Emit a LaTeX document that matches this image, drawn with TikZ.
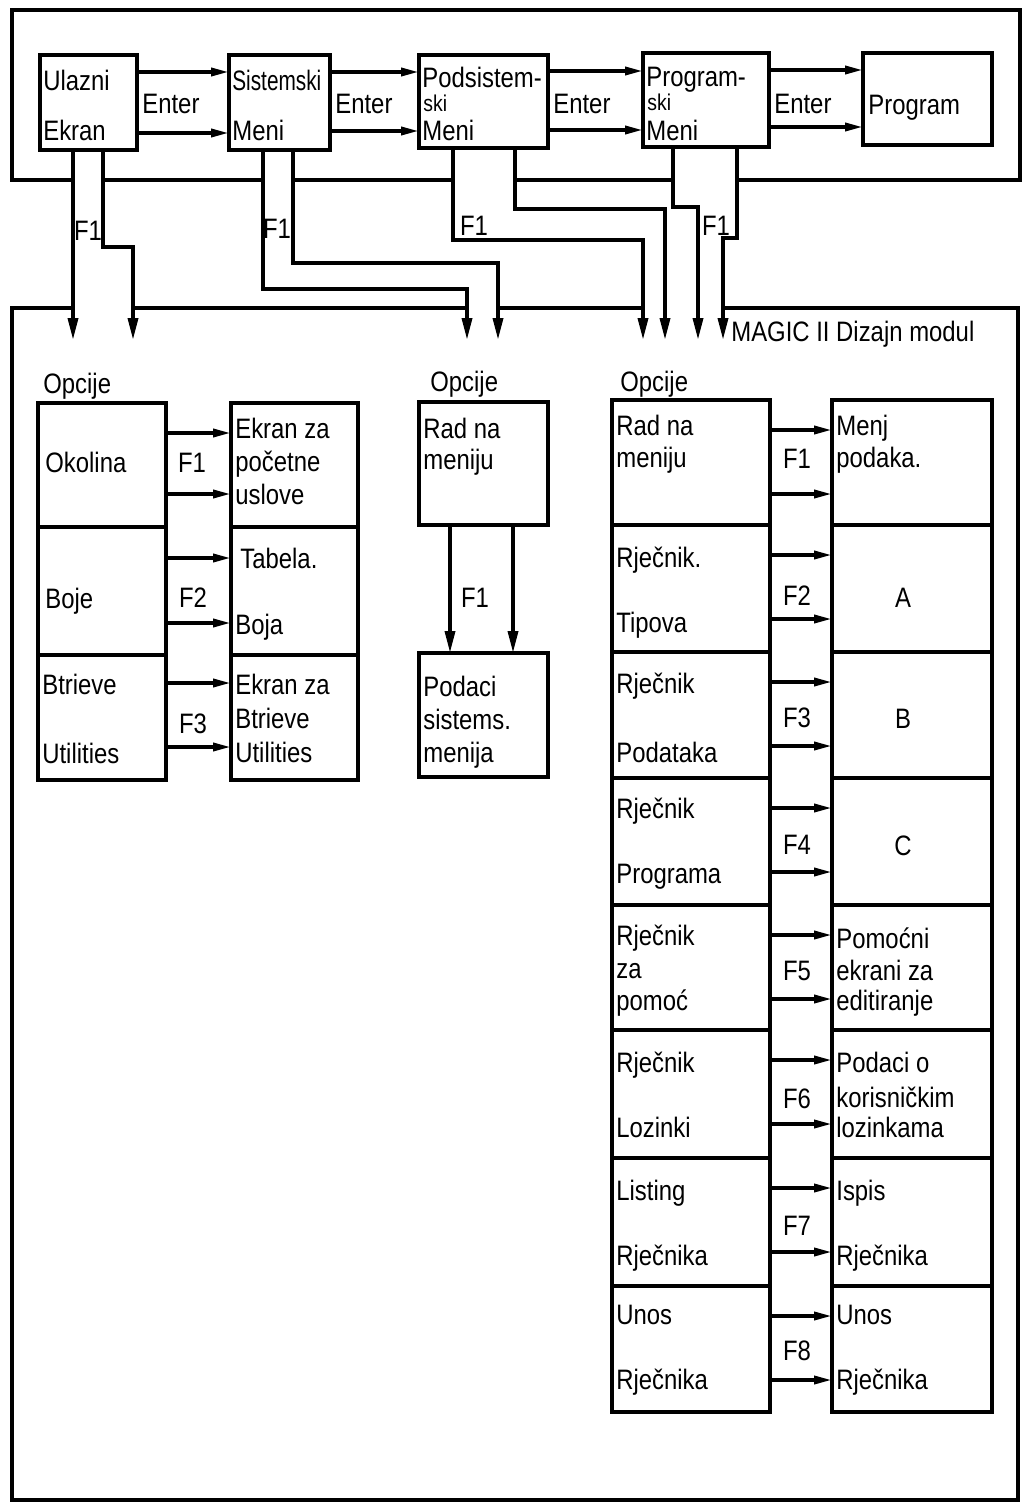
\documentclass[tikz,border=0pt]{standalone}
\usepackage{fontspec}
\setmainfont{Liberation Sans}[FakeStretch=0.85]
\newfontfamily\narrowfont{Liberation Sans}[FakeStretch=0.74]
\usetikzlibrary{arrows.meta}
\newcommand\mybox[5]{\node[box, minimum width={(#4-#2)*0.02cm}, minimum height={(#5-#3)*0.02cm}] (#1) at ({(#2+#4)/2},{(#3+#5)/2}) {};}
\begin{document}
\begin{tikzpicture}[x=0.02cm,y=-0.02cm,
  box/.style={draw, line width=2.1pt, inner sep=0pt, outer sep=0pt},
  wire/.style={line width=2pt},
  dar/.style={-{Triangle[length=0.44cm,width=0.2cm]}},
  har/.style={-{Triangle[length=0.36cm,width=0.16cm]}},
  tx/.style={anchor=west, inner sep=0pt, text height=11.5pt, text depth=0pt, font=\fontsize{16}{18}\selectfont},
  sm/.style={anchor=west, inner sep=0pt, text height=9pt, text depth=0pt, font=\fontsize{13}{14}\selectfont},
  tc/.style={tx, anchor=center}]
\useasboundingbox (0,0) rectangle (1022,1504);
\fill[white] (0,0) rectangle (1022,1504);

% ---------- top frame ----------
\draw[wire] (73,180) -- (12,180) -- (12,10) -- (1020,10) -- (1020,180) -- (737,180);
\draw[wire] (103,180) -- (263,180) (293,180) -- (453,180) (515,180) -- (673,180);

% ---------- bottom frame ----------
\draw[wire] (73,308) -- (12,308) -- (12,1500) -- (1018,1500) -- (1018,308) -- (723,308);
\draw[wire] (133,308) -- (467,308) (498,308) -- (643,308);

% ---------- top boxes ----------
\mybox{ul}{40}{55}{137}{150}
\mybox{si}{229}{55}{330}{150}
\mybox{ps}{419}{55}{548}{148}
\mybox{pg}{643}{53}{769}{147}
\mybox{pr}{863}{53}{992}{145}

\draw[wire,har] (ul.east |- 0,72) -- (si.west |- 0,72);
\draw[wire,har] (ul.east |- 0,133) -- (si.west |- 0,133);
\draw[wire,har] (si.east |- 0,72) -- (ps.west |- 0,72);
\draw[wire,har] (si.east |- 0,131) -- (ps.west |- 0,131);
\draw[wire,har] (ps.east |- 0,71) -- (pg.west |- 0,71);
\draw[wire,har] (ps.east |- 0,130) -- (pg.west |- 0,130);
\draw[wire,har] (pg.east |- 0,70) -- (pr.west |- 0,70);
\draw[wire,har] (pg.east |- 0,127) -- (pr.west |- 0,127);

\foreach \x/\y/\s [count=\i] in {43/80/Ulazni, 43/130/Ekran, 232/130/Meni,
  422/77/Podsistem-, 422/130/Meni, 646/76/Program-, 646/130/Meni,
  142/103/Enter, 335/103/Enter, 553/103/Enter, 774/103/Enter, 868/104/Program}
  \node[tx] (tt\i) at (\x,\y) {\s};
\node[tx, font=\fontsize{16}{18}\narrowfont] (tsi) at (232,80) {Sistemski};
\node[sm] (tski1) at (423,104) {ski};
\node[sm] (tski2) at (647,103) {ski};

% ---------- F1 wires from top boxes ----------
\coordinate (u1) at (73,340);  \coordinate (u2) at (133,340);
\coordinate (s1) at (467,340); \coordinate (s2) at (498,340);
\coordinate (p1) at (643,340); \coordinate (p2) at (665,340);
\coordinate (g1) at (698,340); \coordinate (g2) at (723,340);
\draw[wire,dar] (ul.south -| 73,0) -- (u1);
\draw[wire,dar] (ul.south -| 103,0) |- (133,247) -- (u2);
\draw[wire,dar] (si.south -| 263,0) |- (467,289) -- (s1);
\draw[wire,dar] (si.south -| 293,0) |- (498,263) -- (s2);
\draw[wire,dar] (ps.south -| 453,0) |- (643,240) -- (p1);
\draw[wire,dar] (ps.south -| 515,0) |- (665,209) -- (p2);
\draw[wire,dar] (pg.south -| 673,0) |- (698,207) -- (g1);
\draw[wire,dar] (pg.south -| 737,0) |- (723,238) -- (g2);
\foreach \x/\y [count=\i] in {88/230, 277/228, 474/225, 716/225}
  \node[tc] (wf\i) at (\x,\y) {F1};

\node[tx] (magic) at (731,331) {MAGIC II Dizajn modul};

% ---------- Opcije labels ----------
\node[tx] (op1) at (43,383) {Opcije};
\node[tx] (op2) at (430,381) {Opcije};
\node[tx] (op3) at (620,381) {Opcije};

% ---------- left group ----------
\mybox{ok}{38}{403}{166}{527}
\mybox{bo}{38}{527}{166}{655}
\mybox{bt}{38}{655}{166}{780}
\mybox{ek}{231}{403}{358}{527}
\mybox{tb}{231}{527}{358}{655}
\mybox{eb}{231}{655}{358}{780}
\draw[wire,har] (ok.east |- 0,433) -- (ek.west |- 0,433);
\draw[wire,har] (ok.east |- 0,494) -- (ek.west |- 0,494);
\draw[wire,har] (bo.east |- 0,558) -- (tb.west |- 0,558);
\draw[wire,har] (bo.east |- 0,623) -- (tb.west |- 0,623);
\draw[wire,har] (bt.east |- 0,683) -- (eb.west |- 0,683);
\draw[wire,har] (bt.east |- 0,747) -- (eb.west |- 0,747);
\node[tc] (lf1) at (192,462) {F1};
\node[tc] (lf2) at (193,597) {F2};
\node[tc] (lf3) at (193,723) {F3};
\foreach \x/\y/\s [count=\i] in {45/462/Okolina, 45/598/Boje, 42/684/Btrieve, 42/753/Utilities,
  235/428/Ekran za, 235/461/početne, 235/494/uslove, 240/558/Tabela., 235/624/Boja,
  235/684/Ekran za, 235/718/Btrieve, 235/752/Utilities}
  \node[tx] (tl\i) at (\x,\y) {\s};

% ---------- middle group ----------
\mybox{rn}{419}{402}{548}{525}
\mybox{pd}{419}{653}{548}{777}
\draw[wire,dar] (rn.south -| 450,0) -- (pd.north -| 450,0);
\draw[wire,dar] (rn.south -| 513,0) -- (pd.north -| 513,0);
\node[tc] (mf1) at (475,597) {F1};
\foreach \x/\y/\s [count=\i] in {423/428/Rad na, 423/459/meniju, 423/686/Podaci, 423/719/sistems., 423/752/menija}
  \node[tx] (tm\i) at (\x,\y) {\s};

% ---------- right group ----------
\foreach \t/\b [count=\i] in {400/525, 525/652, 652/778, 778/905, 905/1030, 1030/1158, 1158/1286, 1286/1412}{
  \mybox{rl\i}{612}{\t}{770}{\b}
  \mybox{rr\i}{832}{\t}{992}{\b}
  \draw[wire,har] (rl\i.east |- 0,\t+30) -- (rr\i.west |- 0,\t+30);
  \draw[wire,har] (rl\i.east |- 0,\t+94) -- (rr\i.west |- 0,\t+94);
}
\foreach \y [count=\i] in {458, 595, 717, 844, 970, 1098, 1225, 1350}
  \node[tc] (rf\i) at (797,\y) {F\i};
\foreach \x/\y/\s [count=\i] in {616/425/Rad na, 616/457/meniju, 616/557/Rječnik., 616/622/Tipova,
  616/683/Rječnik, 616/752/Podataka, 616/808/Rječnik, 616/873/Programa,
  616/935/Rječnik, 616/968/za, 616/1000/pomoć, 616/1062/Rječnik, 616/1127/Lozinki,
  616/1190/Listing, 616/1255/Rječnika, 616/1314/Unos, 616/1379/Rječnika,
  836/425/Menj, 836/457/podaka., 836/938/Pomoćni, 836/970/ekrani za, 836/1000/editiranje,
  836/1062/Podaci o, 836/1097/korisničkim, 836/1127/lozinkama,
  836/1190/Ispis, 836/1255/Rječnika, 836/1314/Unos, 836/1379/Rječnika}
  \node[tx] (tr\i) at (\x,\y) {\s};
\node[tc] (la) at (903,597) {A};
\node[tc] (lb) at (903,718) {B};
\node[tc] (lc) at (903,845) {C};
\end{tikzpicture}
\end{document}
